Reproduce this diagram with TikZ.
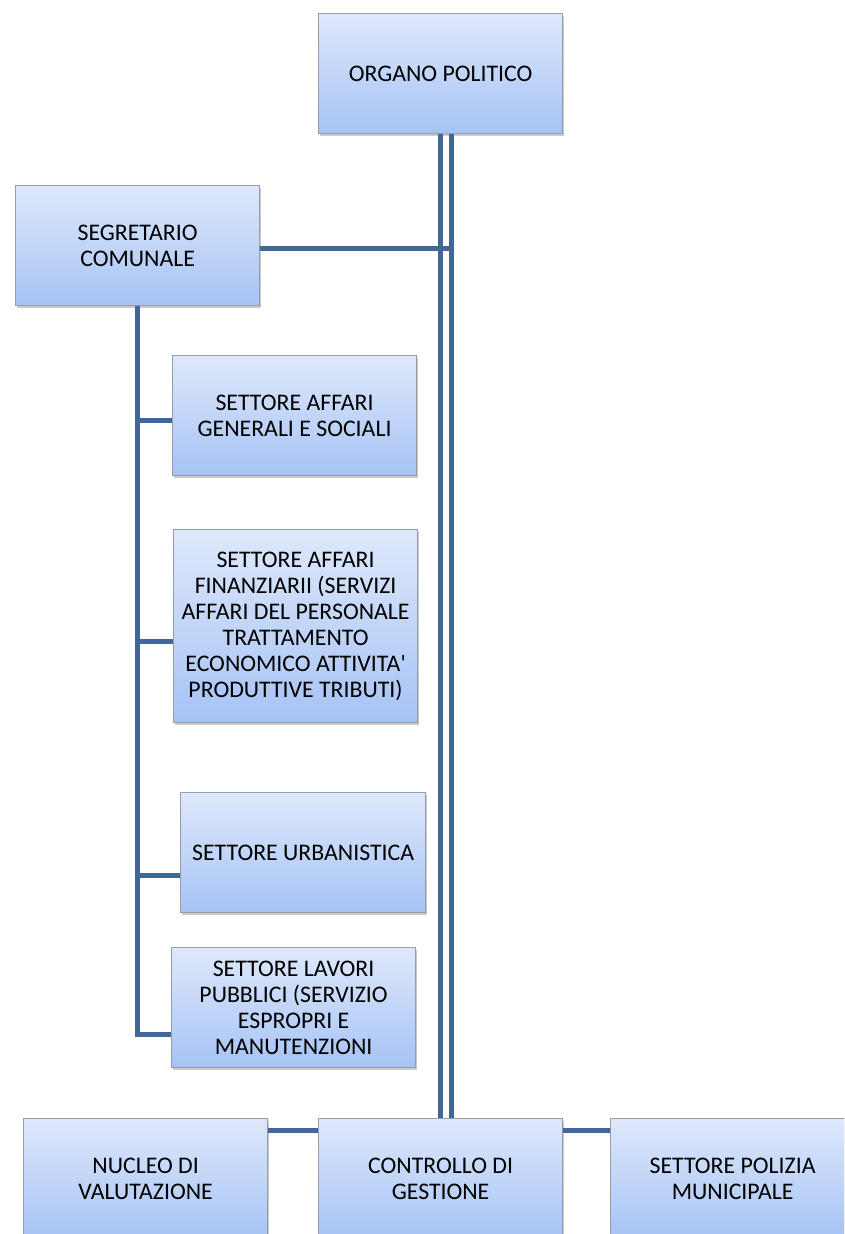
\documentclass[tikz,border=0pt]{standalone}
\usepackage{fontspec}
\setmainfont{Carlito}[Ligatures=TeXOff]
\usetikzlibrary{shadows,calc}
\definecolor{linkblue}{RGB}{65,103,154}
\definecolor{boxtop}{RGB}{222,232,251}
\definecolor{boxbot}{RGB}{166,195,245}
\definecolor{boxedge}{RGB}{150,156,168}
\tikzset{
  orgbox/.style={draw=boxedge, line width=1.2pt, top color=boxtop, bottom color=boxbot,
    minimum width=244pt, minimum height=120pt, anchor=north west, align=center,
    inner sep=2pt, font=\fontsize{23.8}{26}\selectfont,
    drop shadow={shadow xshift=1.5pt, shadow yshift=-2.5pt, fill=black!35, opacity=0.6}},
  link/.style={draw=linkblue, line width=5pt}
}
\begin{document}
\begin{tikzpicture}[x=1pt,y=-1pt]
\useasboundingbox (0,0) rectangle (844,1234);
\clip (0,0) rectangle (844,1234);
\node[orgbox] (org) at (318,13) {ORGANO POLITICO};
\node[orgbox] (seg) at (15,185) {SEGRETARIO\\COMUNALE};
\node[orgbox] (gen) at (172,355) {SETTORE AFFARI\\GENERALI E SOCIALI};
\node[orgbox, minimum height=193pt] (fin) at (173,529) {SETTORE AFFARI\\FINANZIARII (SERVIZI\\AFFARI DEL PERSONALE\\TRATTAMENTO\\ECONOMICO ATTIVITA'\\PRODUTTIVE TRIBUTI)};
\node[orgbox, minimum width=245pt] (urb) at (180,792) {SETTORE URBANISTICA};
\node[orgbox] (lav) at (171,947) {SETTORE LAVORI\\PUBBLICI (SERVIZIO\\ESPROPRI E\\MANUTENZIONI};
\node[orgbox] (nuc) at (23,1118) {NUCLEO DI\\VALUTAZIONE};
\node[orgbox] (ctl) at (318,1118) {CONTROLLO DI\\GESTIONE};
\node[orgbox] (pol) at (610,1118) {SETTORE POLIZIA\\MUNICIPALE};
% double vertical trunk
\coordinate (r1) at ([xshift=11pt]org.south);
\coordinate (r2) at ([xshift=11pt]ctl.north);
\draw[link] (org.south) -- (ctl.north);
\draw[link] (r1) -- (r2);
\draw[link] ([yshift=-3pt]seg.east) -- ([yshift=-3pt]seg.east -| r1);
% left trunk
\coordinate (bgen) at ([yshift=-5pt]gen.west);
\coordinate (bfin) at ([yshift=-15pt]fin.west);
\coordinate (burb) at ([yshift=-23pt]urb.west);
\coordinate (blav) at ([yshift=-27pt]lav.west);
\draw[link] (seg.south) |- (blav);
\draw[link] (seg.south |- bgen) -- (bgen);
\draw[link] (seg.south |- bfin) -- (bfin);
\draw[link] (seg.south |- burb) -- (burb);
% bottom connectors
\draw[link] ([yshift=-12pt]nuc.north east) -- ([yshift=-12pt]ctl.north west);
\draw[link] ([yshift=-12pt]ctl.north east) -- ([yshift=-12pt]pol.north west);
\end{tikzpicture}
\end{document}
